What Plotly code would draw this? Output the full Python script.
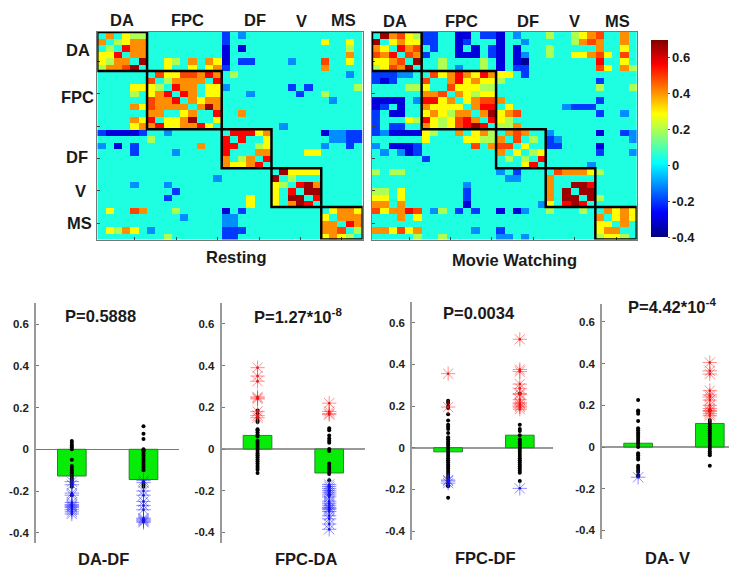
import plotly.graph_objects as go

W, H = 729, 569
NETWORKS = ["DA", "FPC", "DF", "V", "MS"]
BLOCK_SIZES = [6, 9, 6, 6, 5]

# one symbol per connectivity level
LEVELS = {".": 0.045, "l": -0.11, "b": -0.2, "n": -0.3, "a": -0.38,
          "g": 0.2, "y": 0.29, "o": 0.41, "e": 0.49, "r": 0.56, "d": 0.67}

RESTING_ROWS = [
    ".o.ygg ......... b.l... ...... .....",
    "o.gyoo ......... b..... ...... y..y.",
    ".g.roo ......... n.n... ...... ...g.",
    "yyr.oo ......... n..... ...... ...o.",
    "ygoo.d ..yg.o.oy n.bb.. ..l... e..y.",
    "gooed. ..y..y.yo b..... ...... o....",
    "...... .eyyeeoro .g.... ...... ...l.",
    "...... e.goooo.r ...... ...... .....",
    "....yy yg.roo.yy l..... ..b.b. ....g",
    "....g. yor.ro.yy ...l.. ...b.. g....",
    "...... eoor.oyoo ...... ...... .l...",
    "....oy eoooo.odo ...... ...... .....",
    "...... oo..yo..r ..o... ...... .....",
    "....oy r.yyod..y ...... ...... .....",
    "....yo oryyoory. ...... .l.... .....",
    "bnnnnb ..l...... .rrryo ...... nllbb",
    "...... g........ r.r..y ...... .llbb",
    "l.n.b. ......o.. rr..gy ...... l..b.",
    "....b. ...l..... r...oo ....yy .....",
    "...... ......... o.go.r ...... .....",
    "...... ......... oyyor. ...... .....",
    "...... ......... ...... .dyyyy .....",
    "...... ........l ...... d.g... .....",
    "....l. ..l...... ...... yg.rdo .....",
    "...... ...b..... ...... y.r.dd .....",
    "...... ..b...... ...y.. y.dd.r .....",
    "...... ......... ...y.. y.odr. .....",
    ".y..eo ...g..... n.b... ...... .yooy",
    "...... ....l.... ll.... ...... y.ooo",
    "...... ......... ll.... ...... oo.ro",
    ".ygoy. l........ bbb... ...... ooe.g",
    "...... ..g...... bb.... ...... yoyg.",
]

MOVIE_ROWS = [
    ".doeyg bb..nn.bb n.l... g..gyo e..o.",
    "d.yoyy bb..nb... n..l.. ...goe o..o.",
    "oy.roe .b..n.n.b n.n... g..... o..y.",
    "eor.eo b...nnn.b n.nl.. g..yyo ey.e.",
    "yyoe.d ..g....g. n.na.. ...... r..y.",
    "gyeod. ..g.l..g. n.bb.. ...... ey.og",
    "bbbll. .eyoroyro yy.b.. ...... .....",
    "bnb... e..oryoyy g..... ...... b....",
    "....gg y..eyyygg ...... ...... g...g",
    "...... ooe.oygyy ...... ...... .....",
    "nnnn.l rryo.yoee o..... ...... b....",
    "nb.n.. oyyyy.orr .y.... ..lbbb .....",
    "b.nn.. yoygoo.od yoe... ...... b..l.",
    "b...yg rygyero.r yg.... ...... .....",
    "b.bb.. oygyerdr. ggo... ...... .....",
    "blnnnn yg..o.yog .oeo.. l..... n..bl",
    "...... y....yygg o.e.g. bl.... ....l",
    "l.nnnb ......e.o ee.y.. bb.... n....",
    ".l.lnb ......... o.y.gy ...... b...l",
    "...... b........ .g.g.r ...... .....",
    "...... ......... ...yr. .....l .....",
    "g.gg.. ......... l.b... .eoooy g....",
    "...... ......... .ll... o..... .....",
    "...... .....l... ...... o..ddr .....",
    "gg.y.. .....b... ...... o.d.dd .....",
    "yy.y.. .....b... ...... o.dd.d g....",
    "oo.o.. .....n... .....l y.rdr. .....",
    "eyoore .lg.b.b.. n.nl.. g...g. .oyoy",
    "...o.y ......... ...... ...... o.yoy",
    "...... ......... ...... ...... yy.o.",
    "ooyeyo ......l.. b..... ...... yoo..",
    ".....g ..g...... ll.l.. ...... gyyg.",
]

PANEL_LABELS = ["DA-DF", "FPC-DA", "FPC-DF", "DA- V"]
PANEL_P = ["P=0.5888", "P=1.27*10<sup>-8</sup>", "P=0.0034", "P=4.42*10<sup>-4</sup>"]
BAR_VALUES = [[-0.128, -0.145], [0.065, -0.115], [-0.02, 0.06], [0.018, 0.113]]

# black dots, red stars, blue stars for each of two conditions, per panel
BLACK = [
    [[.04,.03,.02,.01,0,-.05,-.08,-.09,-.10,-.11,-.12,-.13,-.14,-.15,-.16,-.17,-.18,-.22],
     [.11,.075,.05,0,-.005,-.01,-.02,-.03,-.04,-.05,-.06,-.07,-.08,-.09,-.1,-.16,-.17,-.18]],
    [[.185,.17,.15,.135,.13,.095,.09,.08,.07,.06,.04,.03,.02,.01,0,-.01,-.02,-.03,-.04,-.05,-.06,-.07,-.08,-.09,-.1,-.115],
     [.1,.09,.065,.05,.04,.03,0,-.01,-.07,-.08,-.09,-.1,-.11,-.12,-.15,-.18,-.2,-.22]],
    [[.225,.215,.2,.19,.16,.13,.11,.1,.09,.07,.05,.04,.03,.02,.01,0,-.01,-.02,-.03,-.04,-.05,-.06,-.07,-.08,-.09,-.1,-.11,-.12,-.13,-.14,-.15,-.16,-.17,-.18,-.185,-.24],
     [.26,.11,.09,.08,.06,.04,.03,.02,.01,0,-.01,-.02,-.03,-.04,-.05,-.06,-.07,-.08,-.09,-.1,-.11,-.12,-.16]],
    [[.225,.175,.17,.16,.125,.09,.08,.07,.06,.05,.04,.03,.02,.01,0,-.03,-.04,-.05,-.06,-.09,-.1,-.11,-.12,-.135,-.14],
     [.175,.13,.12,.11,.1,.09,.08,.07,.06,.05,.04,.03,.02,.01,0,-.01,-.02,-.03,-.04,-.09]],
]
RED = [
    [[], []],
    [[.39,.35,.325,.25,.245,.24,.18,.16,.15], [.22,.18,.17,.165]],
    [[.355,.195], [.52,.375,.365,.305,.285,.26,.255,.23,.215,.21,.2,.195,.185]],
    [[], [.405,.365,.35,.27,.25,.24,.225,.2,.185,.175,.17,.16,.15]],
]
BLUE = [
    [[-.155,-.17,-.21,-.22,-.255,-.265,-.27,-.275,-.28,-.29,-.3,-.31],
     [-.15,-.16,-.2,-.22,-.25,-.27,-.29,-.33,-.335,-.34,-.345,-.35]],
    [[], [-.17,-.18,-.19,-.2,-.21,-.22,-.23,-.25,-.26,-.27,-.28,-.285,-.29,-.3,-.32,-.335,-.36,-.385]],
    [[-.155,-.16,-.17], [-.195]],
    [[-.145], []],
]

JET = [[0, "rgb(0,0,128)"], [.125, "rgb(0,0,255)"], [.375, "rgb(0,255,255)"],
       [.625, "rgb(255,255,0)"], [.875, "rgb(255,0,0)"], [1, "rgb(128,0,0)"]]


def matrix(rows):
    out = []
    for r in rows:
        chars = r.replace(" ", "")
        assert len(chars) == 32, r
        out.append([LEVELS[c] for c in chars])
    return out


def dom_x(a, b):
    return [a / W, b / W]


def dom_y(top, bottom):
    return [1 - bottom / H, 1 - top / H]


fig = go.Figure()
layout = dict(width=W, height=H, margin=dict(l=0, r=0, t=0, b=0),
              paper_bgcolor="white", plot_bgcolor="white", showlegend=False,
              font=dict(family="Liberation Sans", color="#1a1a1a"), bargap=0.6)
shapes, ann = [], []


def text(s, px, py, size=16.5):
    ann.append(dict(text="<b>%s</b>" % s, x=px / W, y=1 - py / H, xref="paper", yref="paper",
                    xanchor="center", yanchor="middle", showarrow=False,
                    font=dict(size=size, family="Liberation Sans", color="#1a1a1a")))


# heat maps
HEAT_FRAMES = [(97.3, 362.7), (372, 636.7)]
for k, (rows, (x0, x1)) in enumerate(zip([RESTING_ROWS, MOVIE_ROWS], HEAT_FRAMES)):
    sfx = "" if k == 0 else "2"
    fig.add_trace(go.Heatmap(
        z=matrix(rows), zmin=-0.4, zmax=0.7, colorscale=JET, xaxis="x" + sfx, yaxis="y" + sfx,
        showscale=k == 1, xgap=0, ygap=0,
        colorbar=dict(x=651 / W, xanchor="left", y=1 - 237 / H, yanchor="bottom",
                      len=197, lenmode="pixels", thickness=17, thicknessmode="pixels",
                      xpad=0, ypad=0, outlinewidth=0, tickvals=[-.4, -.2, 0, .2, .4, .6],
                      ticktext=["<b>-0.4</b>", "<b>-0.2</b>", "<b>0</b>", "<b>0.2</b>", "<b>0.4</b>", "<b>0.6</b>"],
                      ticks="outside", ticklen=2, tickcolor="#555",
                      tickfont=dict(size=13, family="Liberation Sans", color="#1a1a1a"))))
    common = dict(showgrid=False, zeroline=False, showticklabels=False, ticks="inside", ticklen=3,
                  tickcolor="#444", linecolor="#777", linewidth=1, mirror=True,
                  tickvals=[4, 9, 14, 19, 24, 29])
    layout["xaxis" + sfx] = dict(domain=dom_x(x0, x1), range=[-.5, 31.5], anchor="y" + sfx, **common)
    layout["yaxis" + sfx] = dict(domain=dom_y(32, 239.5), range=[31.5, -.5], anchor="x" + sfx, **common)
    start = 0
    for n in BLOCK_SIZES:
        shapes.append(dict(type="rect", xref="x" + sfx, yref="y" + sfx, x0=start - .5, x1=start + n - .5,
                           y0=start - .5, y1=start + n - .5, line=dict(color="black", width=2.5)))
        start += n

# bar panels: left spine, top, bottom, x end px
PANELS = [(36, 303, 543, 179), (221.7, 303, 543, 364.5), (412.3, 301.7, 540, 552.7), (602.3, 304.3, 539.3, 729)]
ZERO_PX = [449.3, 449, 447.7, 447]
for p, (sx, top, bot, xe) in enumerate(PANELS):
    xn, yn = "x%d" % (p + 3), "y%d" % (p + 3)
    fig.add_trace(go.Bar(x=[1, 2], y=BAR_VALUES[p], width=0.4, xaxis=xn, yaxis=yn,
                         marker=dict(color="#06EC06", line=dict(color="#2f7f2f", width=1))))
    for g in range(2):
        fig.add_trace(go.Scatter(x=[g + 1] * len(BLACK[p][g]), y=BLACK[p][g], mode="markers", xaxis=xn, yaxis=yn,
                                 marker=dict(color="black", size=4)))
        for vals, col, dot in [(RED[p][g], "rgba(255,50,50,0.55)", "#f01010"),
                               (BLUE[p][g], "rgba(50,50,255,0.55)", "#1010f0")]:
            if not vals:
                continue
            fig.add_trace(go.Scatter(x=[g + 1] * len(vals), y=vals, mode="markers", xaxis=xn, yaxis=yn,
                                     marker=dict(symbol="asterisk-open", size=12, color=col,
                                                 line=dict(color=col, width=1))))
            fig.add_trace(go.Scatter(x=[g + 1] * len(vals), y=vals, mode="markers", xaxis=xn, yaxis=yn,
                                     marker=dict(color=dot, size=2.5)))
    zero_px = ZERO_PX[p]
    layout["xaxis%d" % (p + 3)] = dict(domain=dom_x(sx, xe), range=[.5, .5 + (xe - sx) / 71.67],
                                       anchor=yn, visible=False)
    layout["yaxis%d" % (p + 3)] = dict(
        domain=dom_y(top, bot), range=[-(bot - zero_px) / 208.5, (zero_px - top) / 208.5], anchor=xn,
        tickvals=[-.4, -.2, 0, .2, .4, .6], ticktext=["-0.4", "-0.2", "0", "0.2", "0.4", "0.6"],
        tickfont=dict(size=11.5, family="Liberation Sans", color="#222", weight="bold"),
        ticks="inside", ticklen=3, tickcolor="#777", showgrid=False,
        showline=True, linecolor="#999", linewidth=1.5 if p == 0 else 2,
        zeroline=True, zerolinecolor="#777" if p == 0 else "#999", zerolinewidth=1 if p == 0 else 1.5,
        ticklabelstandoff=3)

# labels
for s, px in zip(NETWORKS, [122, 188, 255, 301, 343]):
    text(s, px, 20 if s != "V" else 21)
for s, py, px in zip(NETWORKS, [50, 97, 157, 191, 223], [78, 77, 77, 80, 79]):
    text(s, px, py)
for s, px in zip(NETWORKS, [395, 461, 528, 574, 617]):
    text(s, px, 21)
text("Resting", 236, 257)
text("Movie Watching", 514, 260)
for s, (px, py) in zip(PANEL_P, [(101, 316), (298, 316), (479, 313), (672, 306)]):
    text(s, px, py)
for s, (px, py) in zip(PANEL_LABELS, [(103, 559), (306, 559), (485, 558), (667, 558)]):
    text(s, px, py)

layout["shapes"] = shapes
layout["annotations"] = ann
fig.update_layout(**layout)
fig.write_html("out.html", config=dict(displayModeBar=False), post_script="document.body.style.margin='0';")
